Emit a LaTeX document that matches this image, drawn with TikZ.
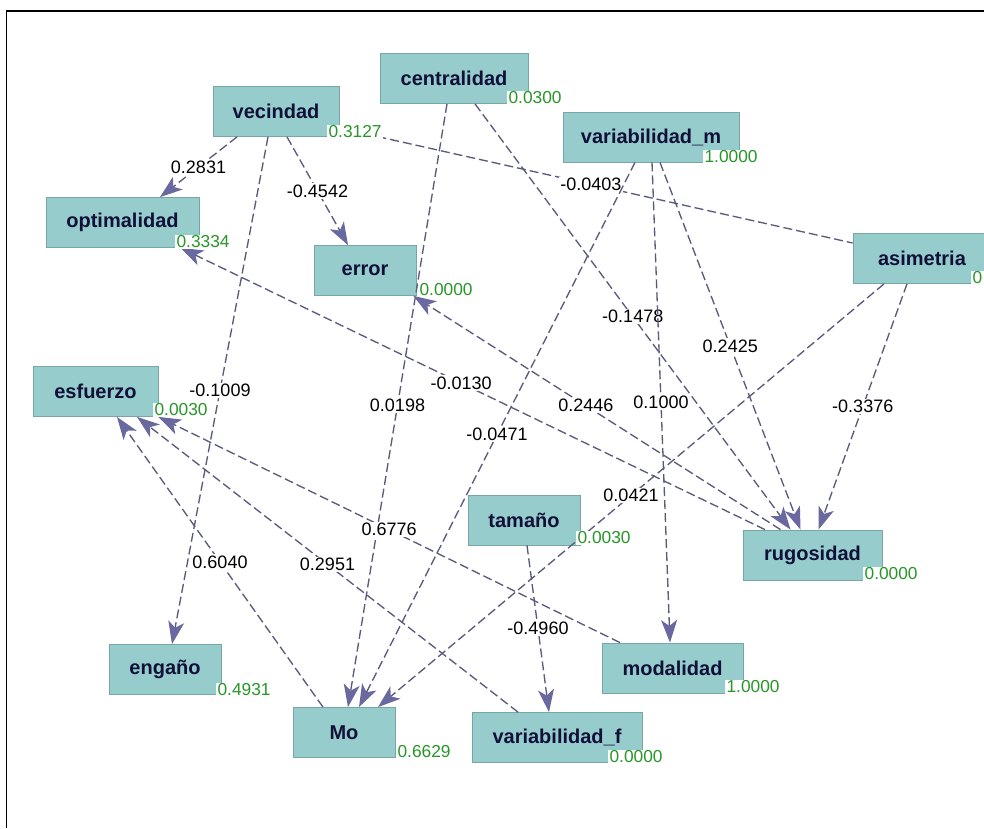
\documentclass[tikz,border=0pt]{standalone}
\usepackage{fontspec}
\setmainfont{Liberation Sans}
\usetikzlibrary{arrows.meta,calc}
\definecolor{boxfill}{RGB}{150,204,204}
\definecolor{boxline}{RGB}{120,165,165}
\definecolor{nametext}{RGB}{16,16,56}
\definecolor{edgecol}{RGB}{90,90,125}
\definecolor{tipcol}{RGB}{105,105,160}
\definecolor{valgreen}{RGB}{40,150,40}
\begin{document}
\begin{tikzpicture}[x=0.75pt,y=-0.75pt,
  var/.style={draw=boxline, fill=boxfill, line width=0.6pt, minimum height=37.5pt, inner sep=0pt,
    font=\fontsize{15}{18}\selectfont\bfseries, text=nametext},
  val/.style={fill=white, text=valgreen, inner sep=1pt, anchor=west, font=\fontsize{13}{15}\selectfont},
  plainlink/.style={draw=edgecol, line width=1pt, dash pattern=on 6.75pt off 3pt},
  link/.style={plainlink, -{Stealth[length=17pt,width=12pt,inset=4.5pt,fill=tipcol,color=tipcol]}},
  wt/.style={fill=white, inner sep=1pt, text=black, font=\fontsize{13.5}{15}\selectfont}]
\useasboundingbox (0,0) rectangle (984,828);
\fill[white] (0,0) rectangle (984,828);
\draw[line width=1.1pt] (6.5,828) -- (6.5,11) -- (984,11);

% nodes
\node[var, minimum width=111pt]    (centralidad) at (454,78.5)   {centralidad};
\node[var, minimum width=94.5pt]   (vecindad)    at (276,111.5)  {vecindad};
\node[var, minimum width=114.75pt] (optimalidad) at (122.5,222.5){optimalidad};
\node[var, minimum width=76.5pt]   (error)       at (365,270.5)  {error};
\node[var, minimum width=132pt]    (varm)        at (651,137)    {variabilidad\_m};
\node[var, minimum width=103.5pt]  (asimetria)   at (922,258.5)  {asimetria};
\node[var, minimum width=93.75pt]  (esfuerzo)    at (95.5,391.5) {esfuerzo};
\node[var, minimum width=84pt]     (tamano)      at (524,520)    {tamaño};
\node[var, minimum width=104.25pt] (rugosidad)   at (812.5,555)  {rugosidad};
\node[var, minimum width=105.75pt] (modalidad)   at (672.5,668)  {modalidad};
\node[var, minimum width=127.5pt]  (varf)        at (557,737.5)  {variabilidad\_f};
\node[var, minimum width=84pt]     (engano)      at (165,669.5)  {engaño};
\node[var, minimum width=76.5pt]   (Mo)          at (344,732.5)  {Mo};

% connectors
\draw[plainlink] ($(vecindad.east)+(0,16.5)$) -- node[wt, pos=0.49]{-0.0403} ($(asimetria.west)+(0,-15.5)$);
\draw[link] ($(vecindad.south)+(-39,0)$) -- node[wt]{0.2831} ($(optimalidad.north)+(37.5,0)$);
\draw[link] ($(vecindad.south)+(11,0)$) -- node[wt]{-0.4542} ($(error.north)+(-17,0)$);
\draw[link] ($(vecindad.south)+(-8,0)$) -- node[wt]{-0.1009} ($(engano.north)+(7,0)$);
\draw[link] ($(centralidad.south)+(-7,0)$) -- node[wt]{0.0198} ($(Mo.north)+(4,0)$);
\draw[link] ($(centralidad.south)+(21,0)$) -- node[wt]{-0.1478} ($(rugosidad.north)+(-22,0)$);
\draw[link] ($(varm.south)+(-16,0)$) -- node[wt]{-0.0471} ($(Mo.north)+(15,0)$);
\draw[link] ($(varm.south)+(1,0)$) -- node[wt]{0.1000} ($(modalidad.north)+(-2.5,0)$);
\draw[link] ($(varm.south)+(9,0)$) -- node[wt]{0.2425} ($(rugosidad.north)+(-12,0)$);
\draw[link] ($(asimetria.south)+(-15,0)$) -- node[wt]{-0.3376} ($(rugosidad.north)+(6,0)$);
\draw[link] ($(asimetria.south)+(-38,0)$) -- node[wt]{0.0421} ($(Mo.north)+(34,0)$);
\draw[link] ($(rugosidad.north)+(-47.5,0)$) -- node[wt, pos=0.52]{-0.0130} ($(optimalidad.south)+(58,0)$);
\draw[link] ($(rugosidad.north)+(-32,0)$) -- node[wt, pos=0.53]{0.2446} ($(error.south east)+(-3,0)$);
\draw[link] ($(Mo.north)+(-21,0)$) -- node[wt]{0.6040} ($(esfuerzo.south)+(21.5,0)$);
\draw[link] ($(varf.north)+(-39,0)$) -- node[wt]{0.2951} ($(esfuerzo.south)+(41.5,0)$);
\draw[link] ($(modalidad.north)+(-52.5,0)$) -- node[wt]{0.6776} ($(esfuerzo.south east)+(0,0)$);
\draw[link] ($(tamano.south)+(3,0)$) -- node[wt]{-0.4960} ($(varf.north)+(-8,0)$);

% values
\node[val] (vcentralidad) at (507,98)  {0.0300};
\node[val] (vvecindad)    at (327,132) {0.3127};
\node[val] (voptimalidad) at (175,242) {0.3334};
\node[val] (verror)       at (418,290) {0.0000};
\node[val] (vvarm)        at (703,157) {1.0000};
\node[val] (vasimetria)   at (971,278) {0};
\node[val] (vesfuerzo)    at (153,410) {0.0030};
\node[val] (vtamano)      at (576,538) {0.0030};
\node[val] (vrugosidad)   at (863,574) {0.0000};
\node[val] (vmodalidad)   at (725,687) {1.0000};
\node[val] (vvarf)        at (608,757) {0.0000};
\node[val] (vengano)      at (216,690) {0.4931};
\node[val] (vMo)          at (396,752) {0.6629};
\end{tikzpicture}
\end{document}
